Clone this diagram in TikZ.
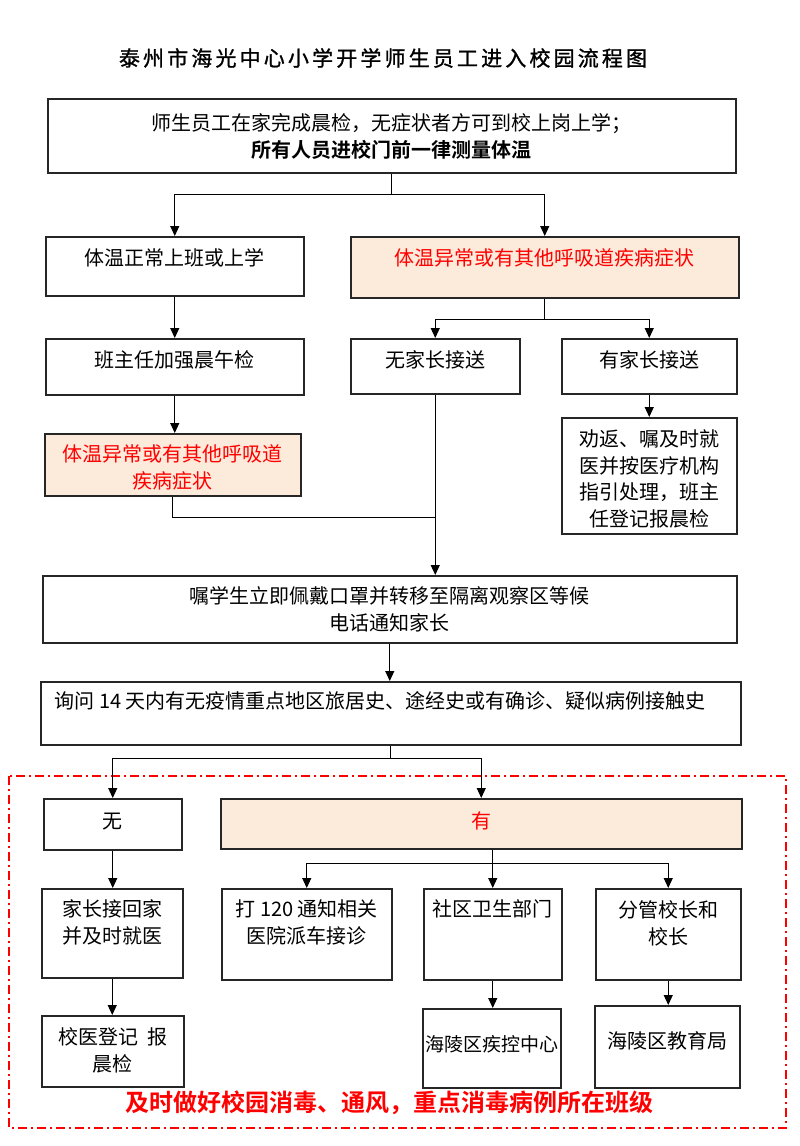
\documentclass[tikz,border=0pt]{standalone}
\usepackage{fontspec}
\setmainfont{Noto Sans CJK SC}[BoldFont={Noto Sans CJK SC Bold}]
\newfontfamily\titlefont{Noto Sans CJK SC}[LetterSpace=15, FakeBold=1.2]
\usetikzlibrary{arrows.meta}

\definecolor{boxpink}{RGB}{252,234,218}
\newcommand{\bodyfont}{\fontsize{20pt}{27pt}\selectfont}
\newcommand{\boxtext}[1]{\begin{tabular}[t]{@{}c@{}}#1\end{tabular}}

\begin{document}
\begin{tikzpicture}[x=1pt, y=-1pt,
		box/.style={draw=black!85, line width=1.5pt, fill=white, inner sep=0pt, anchor=north west, font=\bodyfont},
		alert/.style={box, fill=boxpink, text=red},
		link/.style={line width=1.1pt},
		arr/.style={link, -{Triangle[length=10pt,width=9pt]}},
		frame/.style={red, line width=1.4pt, dash pattern=on 9pt off 4pt on 2pt off 4pt}]
		\useasboundingbox (0,0) rectangle (800,1146);
		
		% Title
		\node[font=\titlefont\fontsize{21pt}{24pt}\selectfont] (title) at (383,58) {泰州市海光中心小学开学师生员工进入校园流程图};
		
		% Red frame round the last part
		\draw[frame] (9,776) rectangle (786,1128);
		
		% Entry and first check
		\node[box, minimum width=688pt, text height=32pt, text depth=42pt] (entry) at (47,98) {\boxtext{师生员工在家完成晨检，无症状者方可到校上岗上学；\\\textbf{所有人员进校门前一律测量体温}}};
		\node[box, minimum width=258pt, text height=29pt, text depth=30pt] (normal) at (45,236) {体温正常上班或上学};
		\node[alert, minimum width=388pt, text height=29pt, text depth=32pt] (abn1) at (350,236) {体温异常或有其他呼吸道疾病症状};
		
		% Second row
		\node[box, minimum width=258pt, text height=29pt, text depth=27pt] (head) at (45,338) {班主任加强晨午检};
		\node[box, minimum width=169pt, text height=29pt, text depth=26pt] (nopar) at (350,338) {无家长接送};
		\node[box, minimum width=175pt, text height=29pt, text depth=26pt] (withpar) at (561,338) {有家长接送};
		
		% Third row
		\node[alert, minimum width=256pt, text height=28pt, text depth=34pt] (abn2) at (44,433) {\boxtext{体温异常或有其他呼吸道\\疾病症状}};
		\node[box, minimum width=175pt, text height=29pt, text depth=87pt, font=\fontsize{20pt}{26.5pt}\selectfont] (advise) at (561,417) {\boxtext{劝返、嘱及时就\\医并按医疗机构\\指引处理，班主\\任登记报晨检}};
		
		% Isolation and questions
		\node[box, minimum width=694pt, text height=28pt, text depth=39pt] (isolate) at (42,575) {\boxtext{嘱学生立即佩戴口罩并转移至隔离观察区等候\\电话通知家长}};
		\node[box, inner xsep=14pt, text height=27pt, text depth=36pt] (ask) at (40,681) {\makebox[672pt][l]{询问 14 天内有无疫情重点地区旅居史、途经史或有确诊、疑似病例接触史}};
		
		% Answers
		\node[box, minimum width=138pt, text height=30pt, text depth=21pt] (none) at (43,798) {无};
		\node[alert, minimum width=521pt, text height=30pt, text depth=20pt] (yes) at (220,798) {有};
		
		\node[box, minimum width=141pt, text height=28pt, text depth=61pt] (home) at (41,888) {\boxtext{家长接回家\\并及时就医}};
		\node[box, minimum width=170pt, text height=28pt, text depth=63pt] (call) at (221,888) {\boxtext{打 120 通知相关\\医院派车接诊}};
		\node[box, minimum width=138pt, text height=28pt, text depth=63pt] (comm) at (423,888) {社区卫生部门};
		\node[box, minimum width=145pt, text height=29pt, text depth=62pt] (chief) at (595,888) {\boxtext{分管校长和\\校长}};
		
		\node[box, minimum width=142pt, text height=29pt, text depth=42pt] (clinic) at (41,1015) {\boxtext{校医登记\hspace{9pt}报\\晨检}};
		\node[box, minimum width=138pt, text height=43pt, text depth=36pt, font=\fontsize{19pt}{24pt}\selectfont] (cdc) at (422,1008) {海陵区疾控中心};
		\node[box, minimum width=145pt, text height=43pt, text depth=39pt] (edu) at (594,1005) {海陵区教育局};
		
		\node[font=\bfseries\fontsize{24pt}{28pt}\selectfont, text=red] (disinfect) at (389,1103) {及时做好校园消毒、通风，重点消毒病例所在班级};
		
		% Connectors, upper part
		\draw[arr] (entry.south) -- ++(0,21) -| (normal.north);
		\draw[arr] (entry.south) -- ++(0,21) -| (abn1.north);
		\draw[arr] (normal.south) -- (normal.south |- head.north);
		\draw[arr] (head.south) -- (head.south |- abn2.north);
		\draw[arr] (abn1.south) -- ++(0,21) -| (nopar.north);
		\draw[arr] (abn1.south) -- ++(0,21) -| (withpar.north);
		\draw[arr] (withpar.south) -- (withpar.south |- advise.north);
		\draw[link] (abn2.south) -- ++(0,21) -| (nopar.south);
		\draw[arr] (nopar.south) -- (nopar.south |- isolate.north);
		\draw[arr] (isolate.south) -- (isolate.south |- ask.north);
		
		% Connectors, lower part
		\draw[arr] (ask.south) -- ++(0,13) -| (none.north);
		\draw[arr] (ask.south) -- ++(0,13) -| (yes.north);
		\draw[arr] (none.south) -- (none.south |- home.north);
		\draw[arr] (home.south) -- (home.south |- clinic.north);
		\draw[arr] (yes.south -| comm.north) -- (comm.north);
		\draw[arr] (yes.south -| comm.north) -- ++(0,14) -| (call.north);
		\draw[arr] (yes.south -| comm.north) -- ++(0,14) -| (chief.north);
		\draw[arr] (comm.south) -- (comm.south |- cdc.north);
		\draw[arr] (chief.south) -- (chief.south |- edu.north);
	\end{tikzpicture}
\end{document}
